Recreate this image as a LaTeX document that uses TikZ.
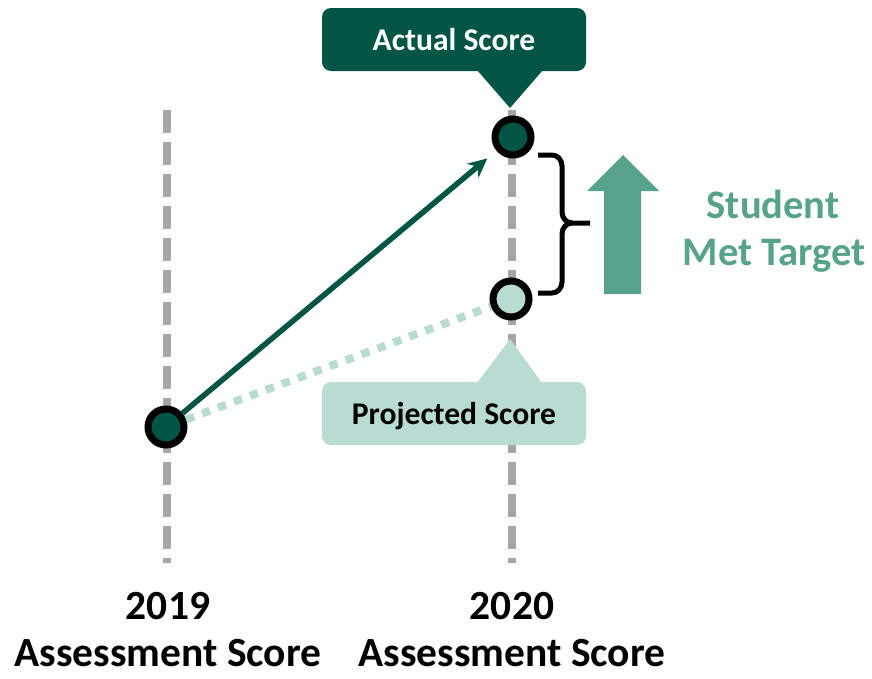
\documentclass[tikz,border=0pt]{standalone}
\usepackage{fontspec}
\setmainfont{Carlito}
\usetikzlibrary{arrows.meta}
\definecolor{darkteal}{HTML}{005544}
\definecolor{paleteal}{HTML}{B8DCD2}
\definecolor{midteal}{HTML}{57A28B}
\definecolor{axisgray}{HTML}{A6A6A6}

\begin{document}
\begin{tikzpicture}[x=1pt,y=-1pt,>={Stealth[length=19pt,width=18pt]},
    score node/.style={circle,draw=black,line width=7pt,inner sep=0pt,minimum size=36pt},
    tag node/.style={rounded corners=9pt,minimum width=264pt,minimum height=63pt,inner sep=0pt,
      font=\fontsize{31.6}{38}\selectfont\bfseries,text height=21pt,text depth=0pt},
    axis line/.style={axisgray,line width=8pt,dash pattern=on 23pt off 9pt},
    axis label/.style={font=\fontsize{41.5}{50}\selectfont\bfseries,anchor=base,inner sep=0pt},
    met label/.style={font=\fontsize{40.5}{47}\selectfont\bfseries,text=midteal,anchor=base,inner sep=0pt}]

  \useasboundingbox (0,0) rectangle (872,678);

  \draw[axis line] (167,110) -- (167,563);
  \draw[axis line] (512,110) -- (512,563);

  \node[score node,fill=darkteal] (S19) at (166,427) {};
  \node[score node,fill=darkteal] (A20) at (513,137) {};
  \node[score node,fill=paleteal] (P20) at (511,299) {};

  \node[tag node,fill=darkteal,text=white] (actual) at (454,39.5) {Actual Score};
  \node[tag node,fill=paleteal] (projected) at (454,413.5) {Projected Score};
  \fill[darkteal] (477,70) -- (543,70) -- (510,108) -- cycle;
  \fill[paleteal] (477,383) -- (542,383) -- (510,339) -- cycle;

  \path[line width=5.5pt]
    (S19) edge[->,darkteal,shorten >=12pt] (A20)
    (S19) edge[paleteal,line width=8pt,dash pattern=on 8.5pt off 8.5pt] (P20);

  \draw[line width=5pt] (538,155) -- (552,155) to[out=0,in=90] (562,166) -- (562,212)
    to[out=-90,in=180] (572,223) -- (590,223);
  \draw[line width=5pt] (538,293) -- (552,293) to[out=0,in=-90] (562,282) -- (562,234)
    to[out=90,in=180] (572,223);

  \fill[midteal] (604,294) -- (604,191) -- (587,191) -- (623,155) -- (659,191)
    -- (641,191) -- (641,294) -- cycle;

  \node[met label] (student) at (773,218) {Student};
  \node[met label] (target) at (774,265) {Met Target};

  \node[axis label] (y19) at (168,619) {2019};
  \node[axis label] (a19) at (168,666) {Assessment Score};
  \node[axis label] (y20) at (512,619) {2020};
  \node[axis label] (a20) at (512,666) {Assessment Score};
\end{tikzpicture}
\end{document}
